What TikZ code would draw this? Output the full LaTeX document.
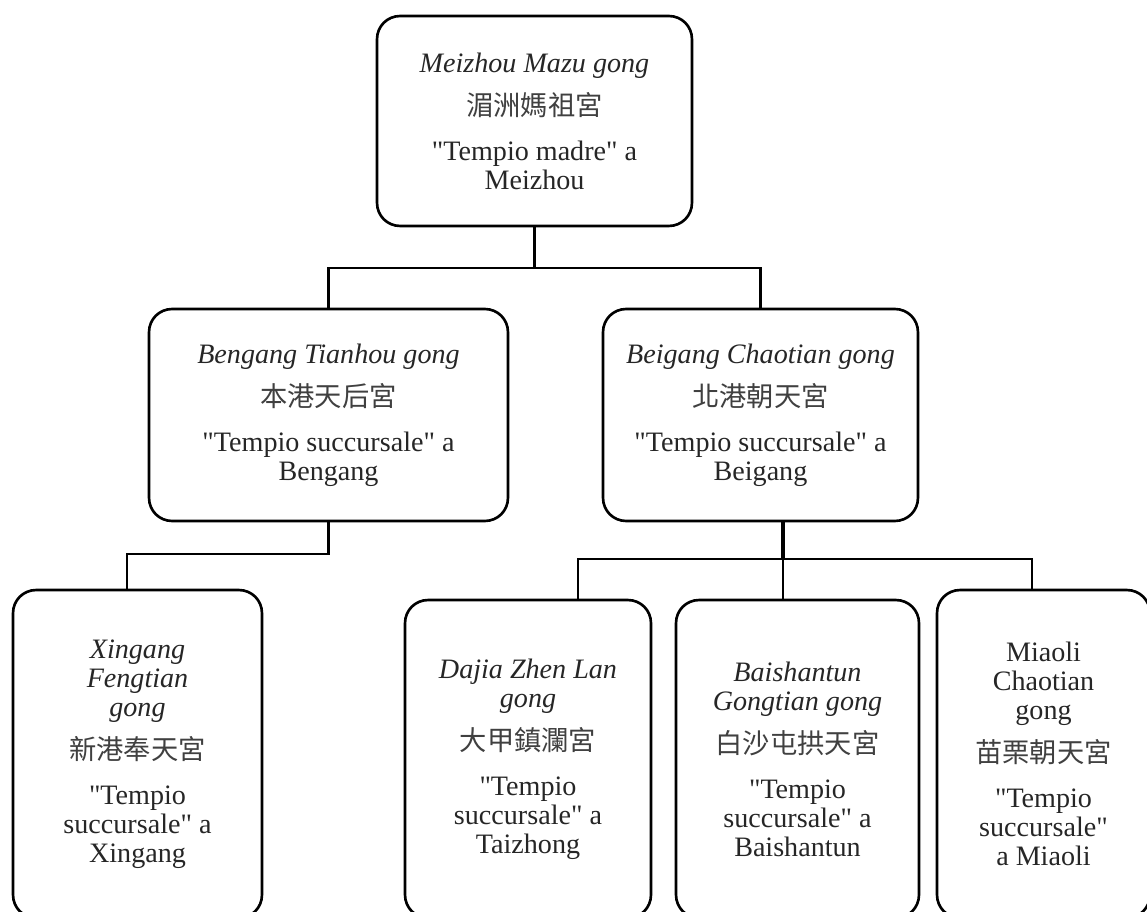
\documentclass[tikz,border=0pt]{standalone}
\usepackage{fontspec}
\setmainfont{Liberation Serif}[Ligatures=TeXOff]
\newfontfamily\cjk{Noto Sans CJK TC}[Scale=0.97, Color=404040]
\usetikzlibrary{calc}

\tikzset{
  temple/.style={draw, line width=1.5pt, rounded corners=0.46cm, align=center,
                 inner sep=0pt, text=black!85, font=\fontsize{16}{16.5}\selectfont},
  link/.style={line width=1.3pt},
  trunk/.style={line width=2.3pt},
  twig/.style={line width=0.7pt}
}

\begin{document}
\begin{tikzpicture}[x=0.02cm, y=-0.02cm]
  \clip (0,0) rectangle (1147,912);
  \fill[white] (0,0) rectangle (1147,912);

  % Tempio madre
  \node[temple, minimum width=6.3cm, minimum height=4.2cm] (mazu) at (534.5,121)
    {\textit{Meizhou Mazu gong}\\[7pt]{\cjk 湄洲媽祖宮}\\[9pt]"Tempio madre" a\\Meizhou};

  % Second level
  \node[temple, minimum width=7.18cm, minimum height=4.24cm] (bengang) at (328.5,415)
    {\textit{Bengang Tianhou gong}\\[7pt]{\cjk 本港天后宮}\\[9pt]"Tempio succursale" a\\Bengang};
  \node[temple, minimum width=6.3cm, minimum height=4.24cm] (beigang) at (760.5,415)
    {\textit{Beigang Chaotian gong}\\[7pt]{\cjk 北港朝天宮}\\[9pt]"Tempio succursale" a\\Beigang};

  % Third level
  \node[temple, minimum width=4.98cm, minimum height=6.56cm] (xingang) at (137.5,754)
    {\textit{Xingang}\\\textit{Fengtian}\\\textit{gong}\\[7pt]{\cjk 新港奉天宮}\\[9pt]"Tempio\\succursale" a\\Xingang};
  \node[temple, minimum width=4.92cm, minimum height=6.36cm] (dajia) at (528,759)
    {\textit{Dajia Zhen Lan}\\\textit{gong}\\[7pt]{\cjk 大甲鎮瀾宮}\\[9pt]"Tempio\\succursale" a\\Taizhong};
  \node[temple, minimum width=4.86cm, minimum height=6.36cm] (baishantun) at (797.5,759)
    {\textit{Baishantun}\\\textit{Gongtian gong}\\[7pt]{\cjk 白沙屯拱天宮}\\[9pt]"Tempio\\succursale" a\\Baishantun};
  \node[temple, minimum width=4.26cm, minimum height=6.56cm] (miaoli) at (1043.5,754)
    {Miaoli\\Chaotian\\gong\\[7pt]{\cjk 苗栗朝天宮}\\[9pt]"Tempio\\succursale"\\a Miaoli};

  % Connectors
  \coordinate (top bus) at (533,268);
  \draw[link] (mazu.south) -- (mazu.south |- top bus);
  \draw[link] (bengang.north) |- (top bus) -| (beigang.north);

  \coordinate (left bus) at (331,554);
  \draw[link] (bengang.south) -- (bengang.south |- left bus) -| ($(xingang.north)+(-10.5,0)$);

  \coordinate (right bus) at (783,559);
  \draw[trunk] (right bus |- beigang.south) -- (right bus);
  \draw[link] ($(dajia.north)+(50,0)$) |- (right bus) -| ($(miaoli.north)+(-11.5,0)$);
  \draw[twig] (right bus) -- (right bus |- baishantun.north);
\end{tikzpicture}
\end{document}
